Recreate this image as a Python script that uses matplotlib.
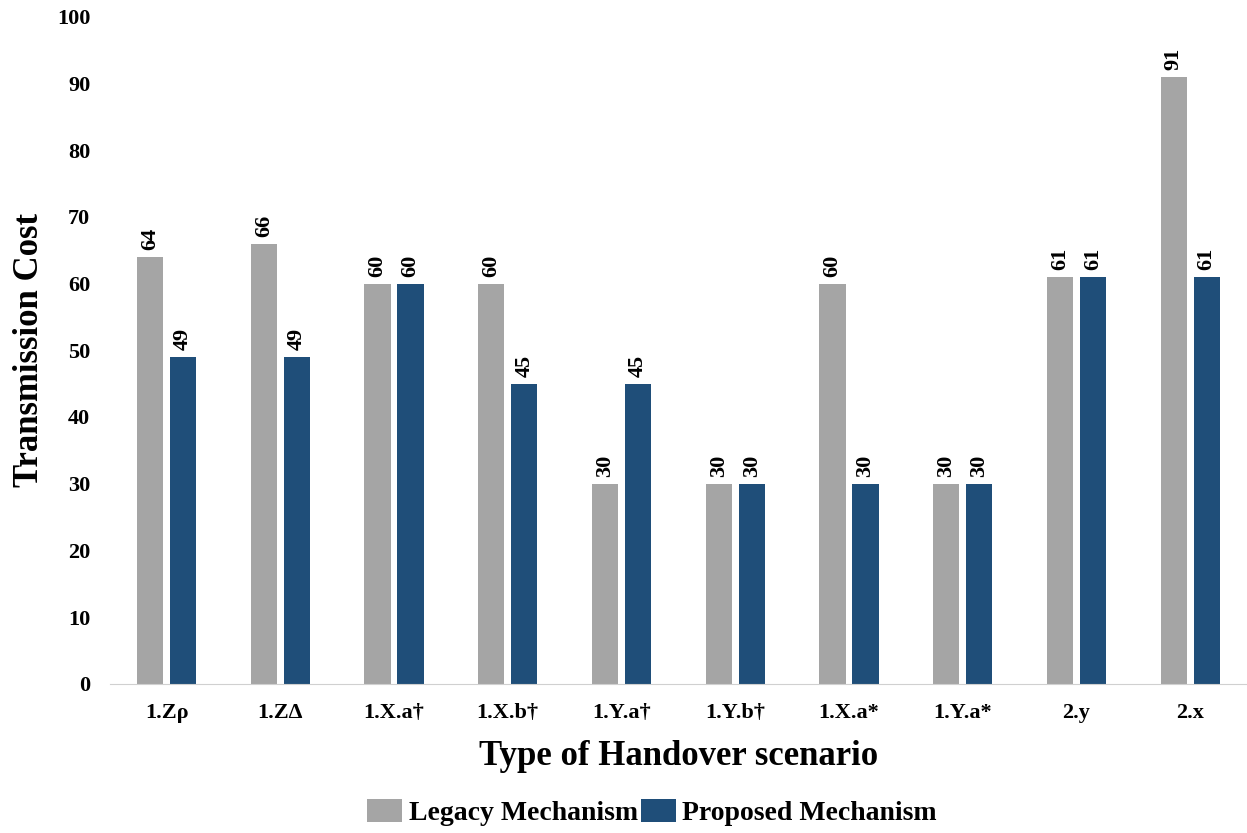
import numpy as np
import matplotlib.pyplot as plt

# 数据
scenarios = ['1.Zρ', '1.ZΔ', '1.X.a†', '1.X.b†', '1.Y.a†', '1.Y.b†', '1.X.a*', '1.Y.a*', '2.y', '2.x']
legacy = [64, 66, 60, 60, 30, 30, 60, 30, 61, 91]
proposed = [49, 49, 60, 45, 45, 30, 30, 30, 61, 61]

plt.rcParams['font.family'] = ['Liberation Serif', 'DejaVu Serif']
plt.rcParams['font.weight'] = 'bold'

fig = plt.figure(figsize=(12.47, 8.33), dpi=100)
ax = fig.add_axes([0.088, 0.179, 0.912, 0.801])

x = np.arange(len(scenarios))
w = 0.23
off = 0.145
b1 = ax.bar(x - off, legacy, w, color='#A5A5A5', label='Legacy Mechanism')
b2 = ax.bar(x + off, proposed, w, color='#1F4E79', label='Proposed Mechanism')

# 数值标签
for bars in (b1, b2):
    for r in bars:
        ax.annotate(str(int(r.get_height())), (r.get_x() + r.get_width() / 2, r.get_height()),
                    xytext=(0, 5), textcoords='offset points', rotation=90,
                    ha='center', va='bottom', fontsize=16, fontweight='bold')

ax.set_xlim(-0.5, len(scenarios) - 0.5)
ax.set_ylim(0, 100)
ax.set_yticks(range(0, 101, 10))
ax.set_xticks(x)
ax.set_xticklabels(scenarios)
ax.tick_params(axis='both', length=0, labelsize=16)
ax.tick_params(axis='x', pad=14)
ax.tick_params(axis='y', pad=14)

for s in ['top', 'right', 'left']:
    ax.spines[s].set_visible(False)
ax.spines['bottom'].set_color('#D0D0D0')

ax.set_ylabel('Transmission Cost', fontsize=25, fontweight='bold', labelpad=8)
ax.set_xlabel('Type of Handover scenario', fontsize=25, fontweight='bold', labelpad=12)

fig.legend(loc='lower center', bbox_to_anchor=(0.523, -0.022), ncol=2, frameon=False,
           fontsize=20, handlelength=1.25, handleheight=0.9, handletextpad=0.25, columnspacing=0.1)

fig.savefig('out.png', dpi=100)
